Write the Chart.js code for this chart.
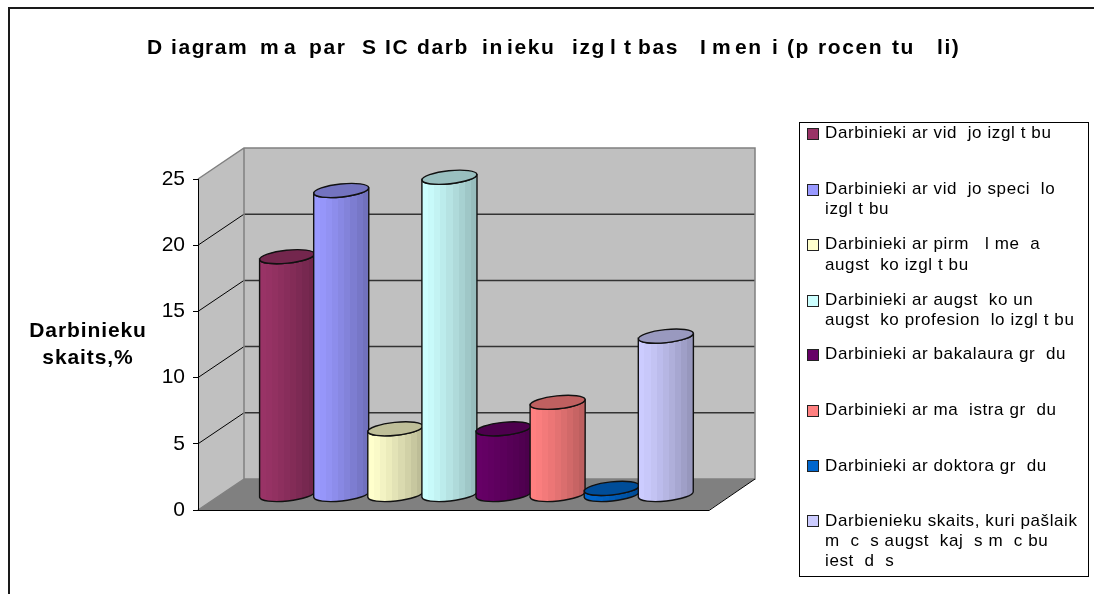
<!DOCTYPE html>
<html><head><meta charset="utf-8">
<style>html,body{margin:0;padding:0;background:#fff}#w{position:absolute;left:0;top:0;width:1094px;height:594px}</style>
<script src="https://cdn.jsdelivr.net/npm/chart.js@4"></script>
</head><body><div id="w"><canvas id="c" width="1094" height="594"></canvas></div>
<script>
const categories = ['Izglītība'];
const seriesValues = [18, 23, 5, 24, 5, 7, 0.5, 12];
const seriesColors = ['#993366','#9999ff','#ffffcc','#ccffff','#660066','#ff8080','#0066cc','#ccccff'];
const legendLines = [
  ['Darbinieki ar vid  jo izgl t bu'],
  ['Darbinieki ar vid  jo speci  lo','izgl t bu'],
  ['Darbinieki ar pirm   l me  a','augst  ko izgl t bu'],
  ['Darbinieki ar augst  ko un','augst  ko profesion  lo izgl t bu'],
  ['Darbinieki ar bakalaura gr  du'],
  ['Darbinieki ar ma  istra gr  du'],
  ['Darbinieki ar doktora gr  du'],
  ['Darbienieku skaits, kuri pašlaik','m  c  s augst  kaj  s m  c bu','iest  d  s']
];
const legendSwatchY = [134,190,245,301,355,411,466,521];
const legendLineY = [[133],[189,209],[244,265],[300,320],[354],[410],[466],[521,541,561]];
const titleParts = ['D','iag','ram','m','a','par','S','IC','darb','in','ieku','izg','l','t','bas','I','m','en','i','(p','rocen','tu','li)'];
const titleX = [147,171,205,260,284,309,362,385,417,482,507,572,610,624,638,700,712,735,772,787,818,892,937];
const axisTitleLines = ['Darbinieku','skaits,%'];
const tickStep = 5, axisMax = 25;

const SANS = '"Liberation Sans", Arial, sans-serif';
const DEPTH = {dx:46, dy:-31};
const MID = {dx:23, dy:-15};

function shade(hex,f){
  const n=parseInt(hex.slice(1),16);
  return `rgb(${Math.round((n>>16&255)*f)},${Math.round((n>>8&255)*f)},${Math.round((n&255)*f)})`;
}
const walls = {
  id:'walls',
  beforeDraw(chart){
    const {ctx,chartArea:a,scales:{y}} = chart;
    const L=a.left,R=a.right,T=y.getPixelForValue(axisMax),B=y.getPixelForValue(0),dx=DEPTH.dx,dy=DEPTH.dy;
    ctx.save();
    ctx.fillStyle='#fff';ctx.fillRect(0,0,chart.width,chart.height);
    ctx.strokeStyle='#1a1a1a';ctx.lineWidth=2;
    ctx.beginPath();ctx.moveTo(9,594);ctx.lineTo(9,8);ctx.lineTo(1094,8);ctx.stroke();
    ctx.fillStyle='#c0c0c0';
    ctx.beginPath();ctx.moveTo(L,B);ctx.lineTo(L,T);ctx.lineTo(L+dx,T+dy);ctx.lineTo(L+dx,B+dy);ctx.closePath();ctx.fill();
    ctx.fillRect(L+dx,T+dy,R-L,B-T);
    ctx.fillStyle='#808080';
    ctx.beginPath();ctx.moveTo(L,B);ctx.lineTo(R,B);ctx.lineTo(R+dx,B+dy);ctx.lineTo(L+dx,B+dy);ctx.closePath();ctx.fill();
    for(let v=tickStep;v<axisMax;v+=tickStep){
      const p=y.getPixelForValue(v);
      ctx.strokeStyle='#000';ctx.lineWidth=1;
      ctx.beginPath();ctx.moveTo(L,p);ctx.lineTo(L+dx,p+dy);ctx.stroke();
      ctx.strokeStyle='#333';ctx.lineWidth=1.5;
      ctx.beginPath();ctx.moveTo(L+dx,p+dy);ctx.lineTo(R+dx,p+dy);ctx.stroke();
    }
    ctx.strokeStyle='#808080';ctx.lineWidth=1.5;
    ctx.beginPath();ctx.moveTo(L,T);ctx.lineTo(L+dx,T+dy);ctx.lineTo(R+dx,T+dy);ctx.lineTo(R+dx,B+dy);ctx.lineTo(L+dx,B+dy);ctx.lineTo(L+dx,T+dy);ctx.stroke();
    ctx.beginPath();ctx.moveTo(L,B);ctx.lineTo(L+dx,B+dy);ctx.stroke();
    ctx.strokeStyle='#000';ctx.lineWidth=1;
    ctx.beginPath();ctx.moveTo(L,B+.5);ctx.lineTo(R,B+.5);ctx.lineTo(R+dx,B+dy);ctx.stroke();
    ctx.fillStyle='#000';ctx.textBaseline='alphabetic';ctx.textAlign='left';
    ctx.font='bold 21px '+SANS;ctx.letterSpacing='1.6px';
    titleParts.forEach((s,i)=>ctx.fillText(s,titleX[i],54));
    ctx.textAlign='center';ctx.textBaseline='middle';ctx.font='bold 21px '+SANS;ctx.letterSpacing='0.9px';
    axisTitleLines.forEach((s,i)=>ctx.fillText(s,88,331+i*27));
    ctx.letterSpacing='0.6px';
    ctx.strokeStyle='#000';ctx.lineWidth=1;ctx.strokeRect(799.5,122.5,289,454);
    ctx.textAlign='left';ctx.font='17px '+SANS;
    legendLines.forEach((lines,i)=>{
      ctx.fillStyle=seriesColors[i];ctx.fillRect(808,legendSwatchY[i]-5,10,10);
      ctx.strokeStyle='#222';ctx.strokeRect(807.5,legendSwatchY[i]-5.5,11,11);
      ctx.fillStyle='#000';
      lines.forEach((s,j)=>ctx.fillText(s,825,legendLineY[i][j]));
    });
    ctx.restore();
  },
  beforeDatasetsDraw(chart){
    const {ctx}=chart;
    const rot=-6*Math.PI/180, ry=6.5;
    chart.data.datasets.forEach((ds,i)=>{
      const el=chart.getDatasetMeta(i).data[0];
      const cx=el.x+MID.dx, top=el.y+MID.dy, base=el.base+MID.dy, rx=el.width/2+0.5;
      const sy=rx*Math.sin(-rot)*0.95;
      const g=ctx.createLinearGradient(cx-rx,0,cx+rx,0);
      const n=9;
      for(let k=0;k<n;k++){
        const t=k/n, f=1-0.3*Math.pow(t,1.25);
        const c=shade(ds.backgroundColor,f);
        g.addColorStop(t,c);g.addColorStop((k+1)/n,c);
      }
      ctx.save();
      ctx.lineWidth=1.4;ctx.strokeStyle='#111';
      ctx.beginPath();
      ctx.moveTo(cx-rx,top+sy);
      ctx.lineTo(cx-rx,base+sy);
      ctx.ellipse(cx,base,rx,ry,rot,Math.PI,0,true);
      ctx.lineTo(cx+rx,top-sy);
      ctx.ellipse(cx,top,rx,ry,rot,0,Math.PI,false);
      ctx.closePath();
      ctx.fillStyle=g;ctx.fill();ctx.stroke();
      ctx.beginPath();
      ctx.ellipse(cx,top,rx,ry,rot,0,Math.PI*2);
      ctx.fillStyle=shade(ds.backgroundColor,0.75);ctx.fill();ctx.stroke();
      ctx.restore();
    });
    return false;
  }
};

new Chart(document.getElementById('c'),{
  type:'bar',
  data:{labels:categories,datasets:seriesValues.map((v,i)=>({
    label:legendLines[i].join(' '),
    data:[v],
    backgroundColor:seriesColors[i],
    barPercentage:1,
    categoryPercentage:0.847
  }))},
  options:{
    responsive:false,animation:false,
    layout:{padding:{top:179,bottom:84,right:385,left:0}},
    plugins:{legend:{display:false},title:{display:false},tooltip:{enabled:false}},
    scales:{
      x:{display:false},
      y:{
        min:0,max:axisMax,
        afterFit(s){s.width=198;},
        ticks:{stepSize:tickStep,color:'#000',padding:8,font:{family:SANS,size:21}},
        grid:{drawOnChartArea:false,drawTicks:true,tickLength:5,color:'#000'},
        border:{display:true,color:'#000',width:1}
      }
    }
  },
  plugins:[walls]
});
</script></body></html>
